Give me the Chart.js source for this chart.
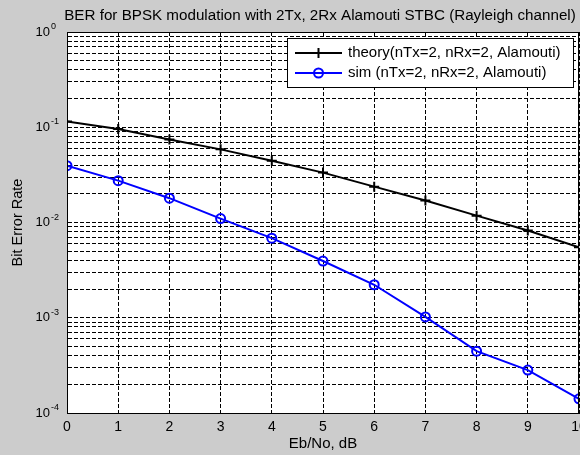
<!DOCTYPE html>
<html>
<head>
<meta charset="utf-8">
<script src="https://cdn.jsdelivr.net/npm/chart.js@4/dist/chart.umd.min.js"></script>
<style>
  html, body { margin: 0; padding: 0; background: #cccccc; }
  #wrap { width: 580px; height: 455px; }
</style>
</head>
<body>
<div id="wrap"><canvas id="berChart" width="580" height="455"></canvas></div>
<script>
// --- data ---
const ebNo = [0, 1, 2, 3, 4, 5, 6, 7, 8, 9, 10];
const theoryBer = [0.115, 0.0957, 0.0745, 0.0586, 0.0446, 0.0334, 0.0238, 0.0170, 0.0118, 0.00824, 0.0055];
const simBer = [0.0395, 0.0275, 0.0180, 0.0110, 0.00685, 0.00394, 0.00222, 0.00102, 0.000446, 0.000282, 0.000141];
const yExponents = [-4, -3, -2, -1, 0];
const seriesNames = ['theory(nTx=2, nRx=2, Alamouti)', 'sim (nTx=2, nRx=2, Alamouti)'];
const chartTitle = 'BER for BPSK modulation with 2Tx, 2Rx Alamouti STBC (Rayleigh channel)';
const xTitle = 'Eb/No, dB';
const yTitle = 'Bit Error Rate';

const FONT = '"Liberation Sans", Arial, sans-serif';

// all log ticks: 1..9 x 10^e, plus the top decade
function logTicks() {
  const out = [];
  for (let i = 0; i < yExponents.length - 1; i++) {
    for (let m = 1; m <= 9; m++) out.push({ value: m * Math.pow(10, yExponents[i]) });
  }
  out.push({ value: Math.pow(10, yExponents[yExponents.length - 1]) });
  return out;
}

// background, plot box, labels and legend
const matlabLook = {
  id: 'matlabLook',
  beforeDraw(chart) {
    const { ctx, chartArea: a } = chart;
    ctx.save();
    ctx.fillStyle = '#cccccc';
    ctx.fillRect(0, 0, chart.width, chart.height);
    ctx.fillStyle = '#ffffff';
    ctx.fillRect(a.left, a.top, a.right - a.left, a.bottom - a.top);
    ctx.restore();
  },
  afterDraw(chart) {
    const { ctx, chartArea: a } = chart;
    const y = chart.scales.y;
    ctx.save();

    // axes box
    ctx.strokeStyle = '#000';
    ctx.lineWidth = 1;
    ctx.strokeRect(a.left + 0.5, a.top + 0.5, a.right - a.left - 1, a.bottom - a.top);

    // title
    ctx.fillStyle = '#000';
    ctx.font = '15.2px ' + FONT;
    ctx.textAlign = 'center';
    ctx.textBaseline = 'alphabetic';
    ctx.fillText(chartTitle, 320, 20);

    // y tick labels 10^e
    yExponents.forEach(e => {
      const py = y.getPixelForValue(Math.pow(10, e));
      ctx.font = '13px ' + FONT;
      ctx.textAlign = 'right';
      ctx.textBaseline = 'middle';
      ctx.fillText('10', a.left - 17, py);
      ctx.font = '9px ' + FONT;
      ctx.textAlign = 'left';
      ctx.textBaseline = 'alphabetic';
      ctx.fillText(String(e), a.left - 16, py - 3);
    });

    // y title
    ctx.font = '14.5px ' + FONT;
    ctx.textAlign = 'center';
    ctx.textBaseline = 'middle';
    ctx.translate(18, (a.top + a.bottom) / 2);
    ctx.rotate(-Math.PI / 2);
    ctx.fillText(yTitle, 0, 0);
    ctx.setTransform(1, 0, 0, 1, 0, 0);

    // x title
    ctx.font = '15px ' + FONT;
    ctx.textBaseline = 'middle';
    ctx.fillText(xTitle, (a.left + a.right) / 2, 444);

    // legend
    const lx = a.right - 292, ly = a.top + 6, lw = 286, lh = 49;
    ctx.fillStyle = '#fff';
    ctx.fillRect(lx, ly, lw, lh);
    ctx.strokeStyle = '#000';
    ctx.lineWidth = 1;
    ctx.strokeRect(lx + 0.5, ly + 0.5, lw, lh);
    chart.data.datasets.forEach((ds, i) => {
      const ry = ly + 15 + i * 20;
      const x0 = lx + 8, x1 = lx + 55, xm = (x0 + x1) / 2;
      ctx.strokeStyle = ds.borderColor;
      ctx.lineWidth = 2;
      ctx.beginPath();
      ctx.moveTo(x0, ry);
      ctx.lineTo(x1, ry);
      ctx.stroke();
      if (ds.pointStyle === 'cross') {
        ctx.beginPath();
        ctx.moveTo(xm, ry - 5);
        ctx.lineTo(xm, ry + 5);
        ctx.stroke();
      } else {
        ctx.beginPath();
        ctx.arc(xm, ry, 4.5, 0, Math.PI * 2);
        ctx.stroke();
      }
      ctx.fillStyle = '#000';
      ctx.font = '15px ' + FONT;
      ctx.textAlign = 'left';
      ctx.textBaseline = 'middle';
      ctx.fillText(ds.label, lx + 61, ry);
    });

    ctx.restore();
  }
};

const ctx = document.getElementById('berChart').getContext('2d');
new Chart(ctx, {
  type: 'line',
  data: {
    datasets: [
      {
        label: seriesNames[0],
        data: ebNo.map((x, i) => ({ x, y: theoryBer[i] })),
        borderColor: '#000000',
        borderWidth: 2,
        pointStyle: 'cross',
        pointRadius: 5,
        pointBorderWidth: 2,
        pointBorderColor: '#000000',
        tension: 0
      },
      {
        label: seriesNames[1],
        data: ebNo.map((x, i) => ({ x, y: simBer[i] })),
        borderColor: '#0000ff',
        borderWidth: 2,
        pointStyle: 'circle',
        pointRadius: 4.5,
        pointBorderWidth: 2,
        pointBorderColor: '#0000ff',
        pointBackgroundColor: 'rgba(0,0,0,0)',
        tension: 0
      }
    ]
  },
  options: {
    responsive: false,
    animation: false,
    events: [],
    layout: { autoPadding: false, padding: { top: 32, right: 1, bottom: 0, left: 0 } },
    plugins: { legend: { display: false }, tooltip: { enabled: false }, title: { display: false } },
    scales: {
      x: {
        type: 'linear',
        min: 0,
        max: 10,
        ticks: { stepSize: 1, color: '#000', font: { family: FONT, size: 14 }, padding: 6, maxRotation: 0 },
        grid: { color: '#000', lineWidth: 1, drawTicks: false },
        border: { display: true, color: '#000', width: 1, dash: [4, 2] },
        afterFit: s => { s.height = 42; s.paddingLeft = 0; s.paddingRight = 0; }
      },
      y: {
        type: 'logarithmic',
        min: 1e-4,
        max: 1,
        afterBuildTicks: s => { s.ticks = logTicks(); },
        ticks: { display: false },
        grid: { color: '#000', lineWidth: 1, drawTicks: false },
        border: { display: true, color: '#000', width: 1, dash: [4, 2] },
        afterFit: s => { s.width = 67; s.paddingTop = 0; s.paddingBottom = 0; }
      }
    }
  },
  plugins: [matlabLook]
});
</script>
</body>
</html>
